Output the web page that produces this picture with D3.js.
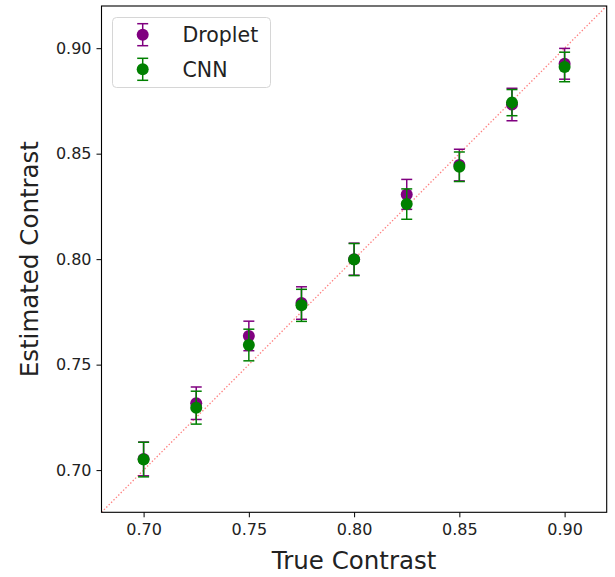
<!DOCTYPE html>
<html>
<head>
<meta charset="utf-8">
<script src="https://cdn.jsdelivr.net/npm/d3@7"></script>
<style>
  body { margin: 0; background: #fff; }
  svg text { font-family: "DejaVu Sans", sans-serif; fill: #222; }
</style>
</head>
<body>
<div id="plotarea"></div>
<script>
// data
var trueContrast = [0.70, 0.725, 0.75, 0.775, 0.80, 0.825, 0.85, 0.875, 0.90];
var dropletMean = [0.7053, 0.7317, 0.7636, 0.7792, 0.8000, 0.8307, 0.8446, 0.8733, 0.8926];
var dropletErr  = [0.0080, 0.0077, 0.0070, 0.0077, 0.0076, 0.0071, 0.0075, 0.0077, 0.0073];
var cnnMean = [0.7050, 0.7296, 0.7593, 0.7781, 0.7998, 0.8261, 0.8438, 0.8742, 0.8911];
var cnnErr  = [0.0082, 0.0078, 0.0075, 0.0076, 0.0076, 0.0072, 0.0070, 0.0062, 0.0070];
var tickValues = [0.70, 0.75, 0.80, 0.85, 0.90];
var seriesNames = ["Droplet", "CNN"];
var seriesColors = ["#800080", "#008000"];

var W = 615, H = 577;
// plot box (note: "top" is a reserved window prop, so use plot_* names)
var plot_l = 101.5, plot_r = 606.7, plot_t = 6, plot_b = 512.3;

var svg = d3.select("#plotarea").append("svg")
  .attr("width", W).attr("height", H);

var x = d3.scaleLinear().domain([0.68, 0.92]).range([plot_l, plot_r]);
var y = d3.scaleLinear().domain([0.68, 0.92]).range([plot_b, plot_t]);

svg.append("clipPath").attr("id", "clip")
  .append("rect").attr("x", plot_l).attr("y", plot_t)
  .attr("width", plot_r - plot_l).attr("height", plot_b - plot_t);

// y = x reference line
svg.append("line")
  .attr("clip-path", "url(#clip)")
  .attr("x1", x(0.68)).attr("y1", y(0.68))
  .attr("x2", x(0.92)).attr("y2", y(0.92))
  .attr("stroke", "red").attr("stroke-opacity", 0.5)
  .attr("stroke-width", 1.3).attr("stroke-dasharray", "1.4,2");

// error bars + markers
var series = [
  { name: seriesNames[0], color: seriesColors[0], mean: dropletMean, err: dropletErr },
  { name: seriesNames[1], color: seriesColors[1], mean: cnnMean, err: cnnErr }
];
var capHalf = 5.5;
var ebWidth = 1.5;

series.forEach(function(s) {
  var pts = trueContrast.map(function(t, i) { return { x: t, m: s.mean[i], e: s.err[i] }; });
  var g = svg.append("g");
  g.selectAll(".v").data(pts).enter().append("line")
    .attr("x1", function(d) { return x(d.x); })
    .attr("x2", function(d) { return x(d.x); })
    .attr("y1", function(d) { return y(d.m - d.e); })
    .attr("y2", function(d) { return y(d.m + d.e); })
    .attr("stroke", s.color).attr("stroke-width", ebWidth);
  [-1, 1].forEach(function(sign) {
    g.selectAll(".cap" + sign).data(pts).enter().append("line")
      .attr("x1", function(d) { return x(d.x) - capHalf; })
      .attr("x2", function(d) { return x(d.x) + capHalf; })
      .attr("y1", function(d) { return y(d.m + sign * d.e); })
      .attr("y2", function(d) { return y(d.m + sign * d.e); })
      .attr("stroke", s.color).attr("stroke-width", ebWidth);
  });
  g.selectAll("circle").data(pts).enter().append("circle")
    .attr("cx", function(d) { return x(d.x); })
    .attr("cy", function(d) { return y(d.m); })
    .attr("r", 6)
    .attr("fill", s.color);
});

// axes
var xAxis = svg.append("g")
  .attr("transform", "translate(0," + plot_b + ")")
  .call(d3.axisBottom(x).tickValues(tickValues).tickFormat(d3.format(".2f"))
    .tickSizeInner(5).tickSizeOuter(0).tickPadding(6));
var yAxis = svg.append("g")
  .attr("transform", "translate(" + plot_l + ",0)")
  .call(d3.axisLeft(y).tickValues(tickValues).tickFormat(d3.format(".2f"))
    .tickSizeInner(5).tickSizeOuter(0).tickPadding(5));
[xAxis, yAxis].forEach(function(a) {
  a.select(".domain").remove();
  a.selectAll("line").attr("stroke", "#000").attr("stroke-width", 1);
  a.selectAll("text").style("font-size", "16px").attr("fill", "#222");
});

// frame
svg.append("rect")
  .attr("x", plot_l).attr("y", plot_t)
  .attr("width", plot_r - plot_l).attr("height", plot_b - plot_t)
  .attr("fill", "none").attr("stroke", "#000").attr("stroke-width", 1.1);

// axis labels
svg.append("text")
  .attr("x", (plot_l + plot_r) / 2).attr("y", 569)
  .attr("text-anchor", "middle")
  .style("font-size", "24.5px")
  .text("True Contrast");
svg.append("text")
  .attr("transform", "translate(38," + ((plot_t + plot_b) / 2) + ") rotate(-90)")
  .attr("text-anchor", "middle")
  .style("font-size", "24.5px")
  .text("Estimated Contrast");

// legend
var legend = svg.append("g");
legend.append("rect")
  .attr("x", 112.5).attr("y", 17.5).attr("width", 158).attr("height", 70)
  .attr("rx", 4).attr("fill", "#fff").attr("fill-opacity", 0.8)
  .attr("stroke", "#d6d6d6").attr("stroke-width", 1);
series.forEach(function(s, i) {
  var cy = 34.7 + i * 34.6, cx = 142.7;
  legend.append("line").attr("x1", cx).attr("x2", cx)
    .attr("y1", cy - 11).attr("y2", cy + 11)
    .attr("stroke", s.color).attr("stroke-width", ebWidth);
  [-11, 11].forEach(function(o) {
    legend.append("line").attr("x1", cx - capHalf).attr("x2", cx + capHalf)
      .attr("y1", cy + o).attr("y2", cy + o)
      .attr("stroke", s.color).attr("stroke-width", ebWidth);
  });
  legend.append("circle").attr("cx", cx).attr("cy", cy).attr("r", 6).attr("fill", s.color);
  legend.append("text").attr("x", 182.5).attr("y", cy + 7.3)
    .style("font-size", "20.5px").text(s.name);
});
</script>
</body>
</html>
